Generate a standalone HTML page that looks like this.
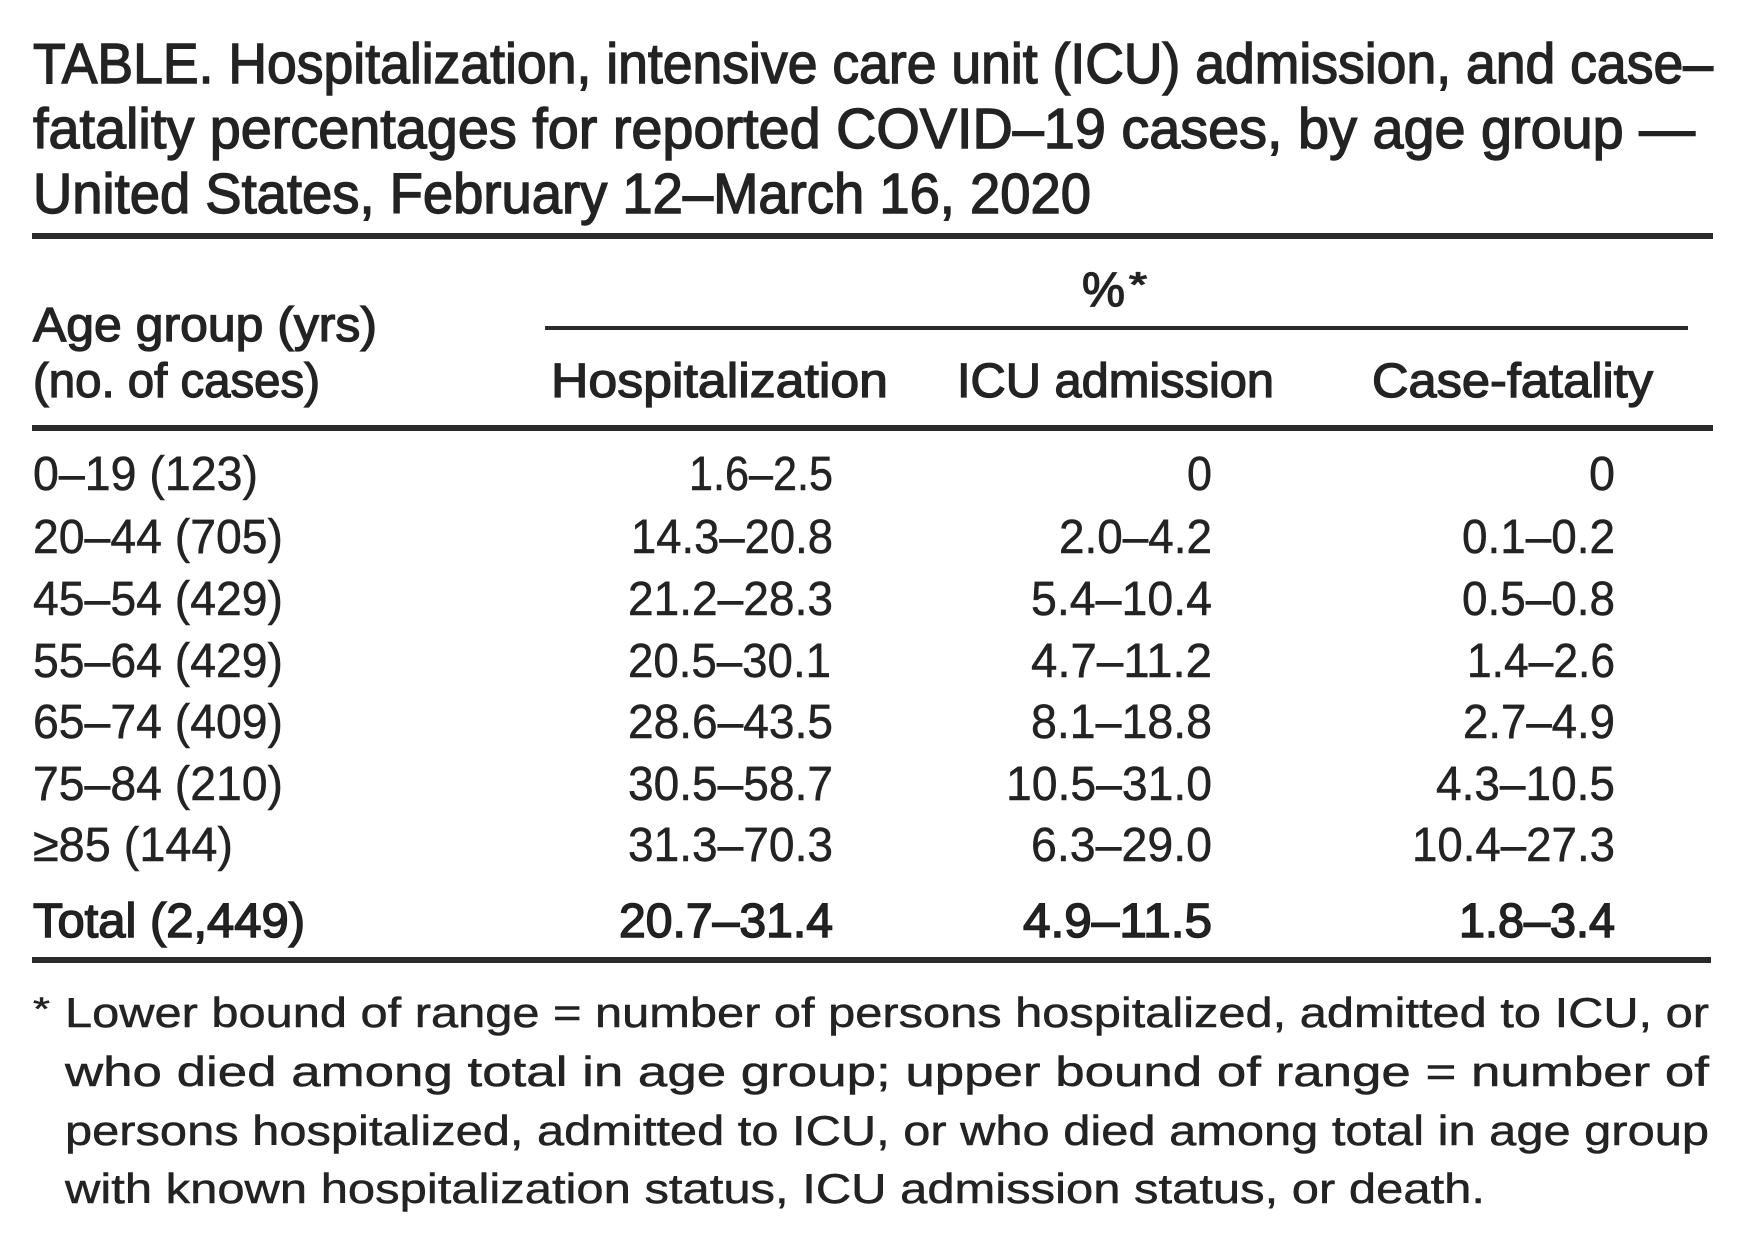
<!DOCTYPE html>
<html>
<head>
<meta charset="utf-8">
<style>
  html, body { margin: 0; padding: 0; background: #ffffff; }
  svg { display: block; }
  text { font-family: "Liberation Sans", "DejaVu Sans", sans-serif; fill: #232323; }
  .t { font-size: 57px; stroke: #232323; stroke-width: 1.4px; }
  .h { font-size: 48px; stroke: #232323; stroke-width: 1.3px; }
  .b { font-size: 48px; stroke: #232323; stroke-width: 0.5px; }
  .bb { font-size: 48px; stroke: #1e1e1e; stroke-width: 1.5px; }
  .f { font-size: 42px; stroke: #232323; stroke-width: 0.5px; }
</style>
</head>
<body>
<svg width="1740" height="1241" viewBox="0 0 1740 1241" xmlns="http://www.w3.org/2000/svg">
  <rect x="0" y="0" width="1740" height="1241" fill="#ffffff"/>

  <!-- Title -->
  <text class="t" x="33" y="83" textLength="1680" lengthAdjust="spacingAndGlyphs">TABLE. Hospitalization, intensive care unit (ICU) admission, and case–</text>
  <text class="t" x="33" y="148" textLength="1662" lengthAdjust="spacingAndGlyphs">fatality percentages for reported COVID–19 cases, by age group —</text>
  <text class="t" x="33" y="213" textLength="1058" lengthAdjust="spacingAndGlyphs">United States, February 12–March 16, 2020</text>

  <!-- Rules -->
  <rect x="32" y="233" width="1681" height="6" fill="#2b2b2b"/>
  <rect x="545" y="326" width="1143" height="4" fill="#2b2b2b"/>
  <rect x="32" y="425" width="1681" height="6" fill="#2b2b2b"/>
  <rect x="32" y="957" width="1679" height="6" fill="#2b2b2b"/>

  <!-- Header -->
  <text class="h" x="1082" y="306" textLength="43" lengthAdjust="spacingAndGlyphs">%</text>
  <text class="h" x="1129" y="296" style="font-size:34px" textLength="18" lengthAdjust="spacingAndGlyphs">*</text>

  <text class="h" x="33" y="341" textLength="344" lengthAdjust="spacingAndGlyphs">Age group (yrs)</text>
  <text class="h" x="33" y="397" textLength="287" lengthAdjust="spacingAndGlyphs">(no. of cases)</text>
  <text class="h" x="551" y="397" textLength="337" lengthAdjust="spacingAndGlyphs">Hospitalization</text>
  <text class="h" x="957" y="397" textLength="317" lengthAdjust="spacingAndGlyphs">ICU admission</text>
  <text class="h" x="1372" y="397" textLength="281" lengthAdjust="spacingAndGlyphs">Case-fatality</text>

  <!-- Row labels -->
  <text class="b" x="33" y="490" textLength="225" lengthAdjust="spacingAndGlyphs">0–19 (123)</text>
  <text class="b" x="33" y="553" textLength="250" lengthAdjust="spacingAndGlyphs">20–44 (705)</text>
  <text class="b" x="33" y="615" textLength="250" lengthAdjust="spacingAndGlyphs">45–54 (429)</text>
  <text class="b" x="33" y="677" textLength="250" lengthAdjust="spacingAndGlyphs">55–64 (429)</text>
  <text class="b" x="33" y="738" textLength="250" lengthAdjust="spacingAndGlyphs">65–74 (409)</text>
  <text class="b" x="33" y="800" textLength="250" lengthAdjust="spacingAndGlyphs">75–84 (210)</text>
  <text class="b" x="33" y="861" textLength="200" lengthAdjust="spacingAndGlyphs">≥85 (144)</text>
  <text class="bb" x="33" y="937" textLength="272" lengthAdjust="spacingAndGlyphs">Total (2,449)</text>

  <!-- Hospitalization column -->
  <text class="b" x="689" y="490" textLength="144" lengthAdjust="spacingAndGlyphs">1.6–2.5</text>
  <text class="b" x="631" y="553" textLength="202" lengthAdjust="spacingAndGlyphs">14.3–20.8</text>
  <text class="b" x="628" y="615" textLength="205" lengthAdjust="spacingAndGlyphs">21.2–28.3</text>
  <text class="b" x="628" y="677" textLength="203" lengthAdjust="spacingAndGlyphs">20.5–30.1</text>
  <text class="b" x="628" y="738" textLength="205" lengthAdjust="spacingAndGlyphs">28.6–43.5</text>
  <text class="b" x="628" y="800" textLength="205" lengthAdjust="spacingAndGlyphs">30.5–58.7</text>
  <text class="b" x="628" y="861" textLength="205" lengthAdjust="spacingAndGlyphs">31.3–70.3</text>
  <text class="bb" x="619" y="937" textLength="214" lengthAdjust="spacingAndGlyphs">20.7–31.4</text>

  <!-- ICU column -->
  <text class="b" x="1187" y="490" textLength="25" lengthAdjust="spacingAndGlyphs">0</text>
  <text class="b" x="1059" y="553" textLength="153" lengthAdjust="spacingAndGlyphs">2.0–4.2</text>
  <text class="b" x="1031" y="615" textLength="181" lengthAdjust="spacingAndGlyphs">5.4–10.4</text>
  <text class="b" x="1031" y="677" textLength="181" lengthAdjust="spacingAndGlyphs">4.7–11.2</text>
  <text class="b" x="1031" y="738" textLength="181" lengthAdjust="spacingAndGlyphs">8.1–18.8</text>
  <text class="b" x="1006" y="800" textLength="206" lengthAdjust="spacingAndGlyphs">10.5–31.0</text>
  <text class="b" x="1031" y="861" textLength="181" lengthAdjust="spacingAndGlyphs">6.3–29.0</text>
  <text class="bb" x="1023" y="937" textLength="189" lengthAdjust="spacingAndGlyphs">4.9–11.5</text>

  <!-- Case-fatality column -->
  <text class="b" x="1589" y="490" textLength="26" lengthAdjust="spacingAndGlyphs">0</text>
  <text class="b" x="1462" y="553" textLength="153" lengthAdjust="spacingAndGlyphs">0.1–0.2</text>
  <text class="b" x="1462" y="615" textLength="153" lengthAdjust="spacingAndGlyphs">0.5–0.8</text>
  <text class="b" x="1467" y="677" textLength="148" lengthAdjust="spacingAndGlyphs">1.4–2.6</text>
  <text class="b" x="1463" y="738" textLength="152" lengthAdjust="spacingAndGlyphs">2.7–4.9</text>
  <text class="b" x="1436" y="800" textLength="179" lengthAdjust="spacingAndGlyphs">4.3–10.5</text>
  <text class="b" x="1412" y="861" textLength="203" lengthAdjust="spacingAndGlyphs">10.4–27.3</text>
  <text class="bb" x="1459" y="937" textLength="156" lengthAdjust="spacingAndGlyphs">1.8–3.4</text>

  <!-- Footnote -->
  <text class="f" x="33" y="1020" style="font-size:32px" textLength="17" lengthAdjust="spacingAndGlyphs">*</text>
  <text class="f" x="65" y="1027" textLength="1644" lengthAdjust="spacingAndGlyphs">Lower bound of range = number of persons hospitalized, admitted to ICU, or</text>
  <text class="f" x="65" y="1086" textLength="1644" lengthAdjust="spacingAndGlyphs">who died among total in age group; upper bound of range = number of</text>
  <text class="f" x="65" y="1145" textLength="1644" lengthAdjust="spacingAndGlyphs">persons hospitalized, admitted to ICU, or who died among total in age group</text>
  <text class="f" x="65" y="1203" textLength="1420" lengthAdjust="spacingAndGlyphs">with known hospitalization status, ICU admission status, or death.</text>
</svg>
</body>
</html>
